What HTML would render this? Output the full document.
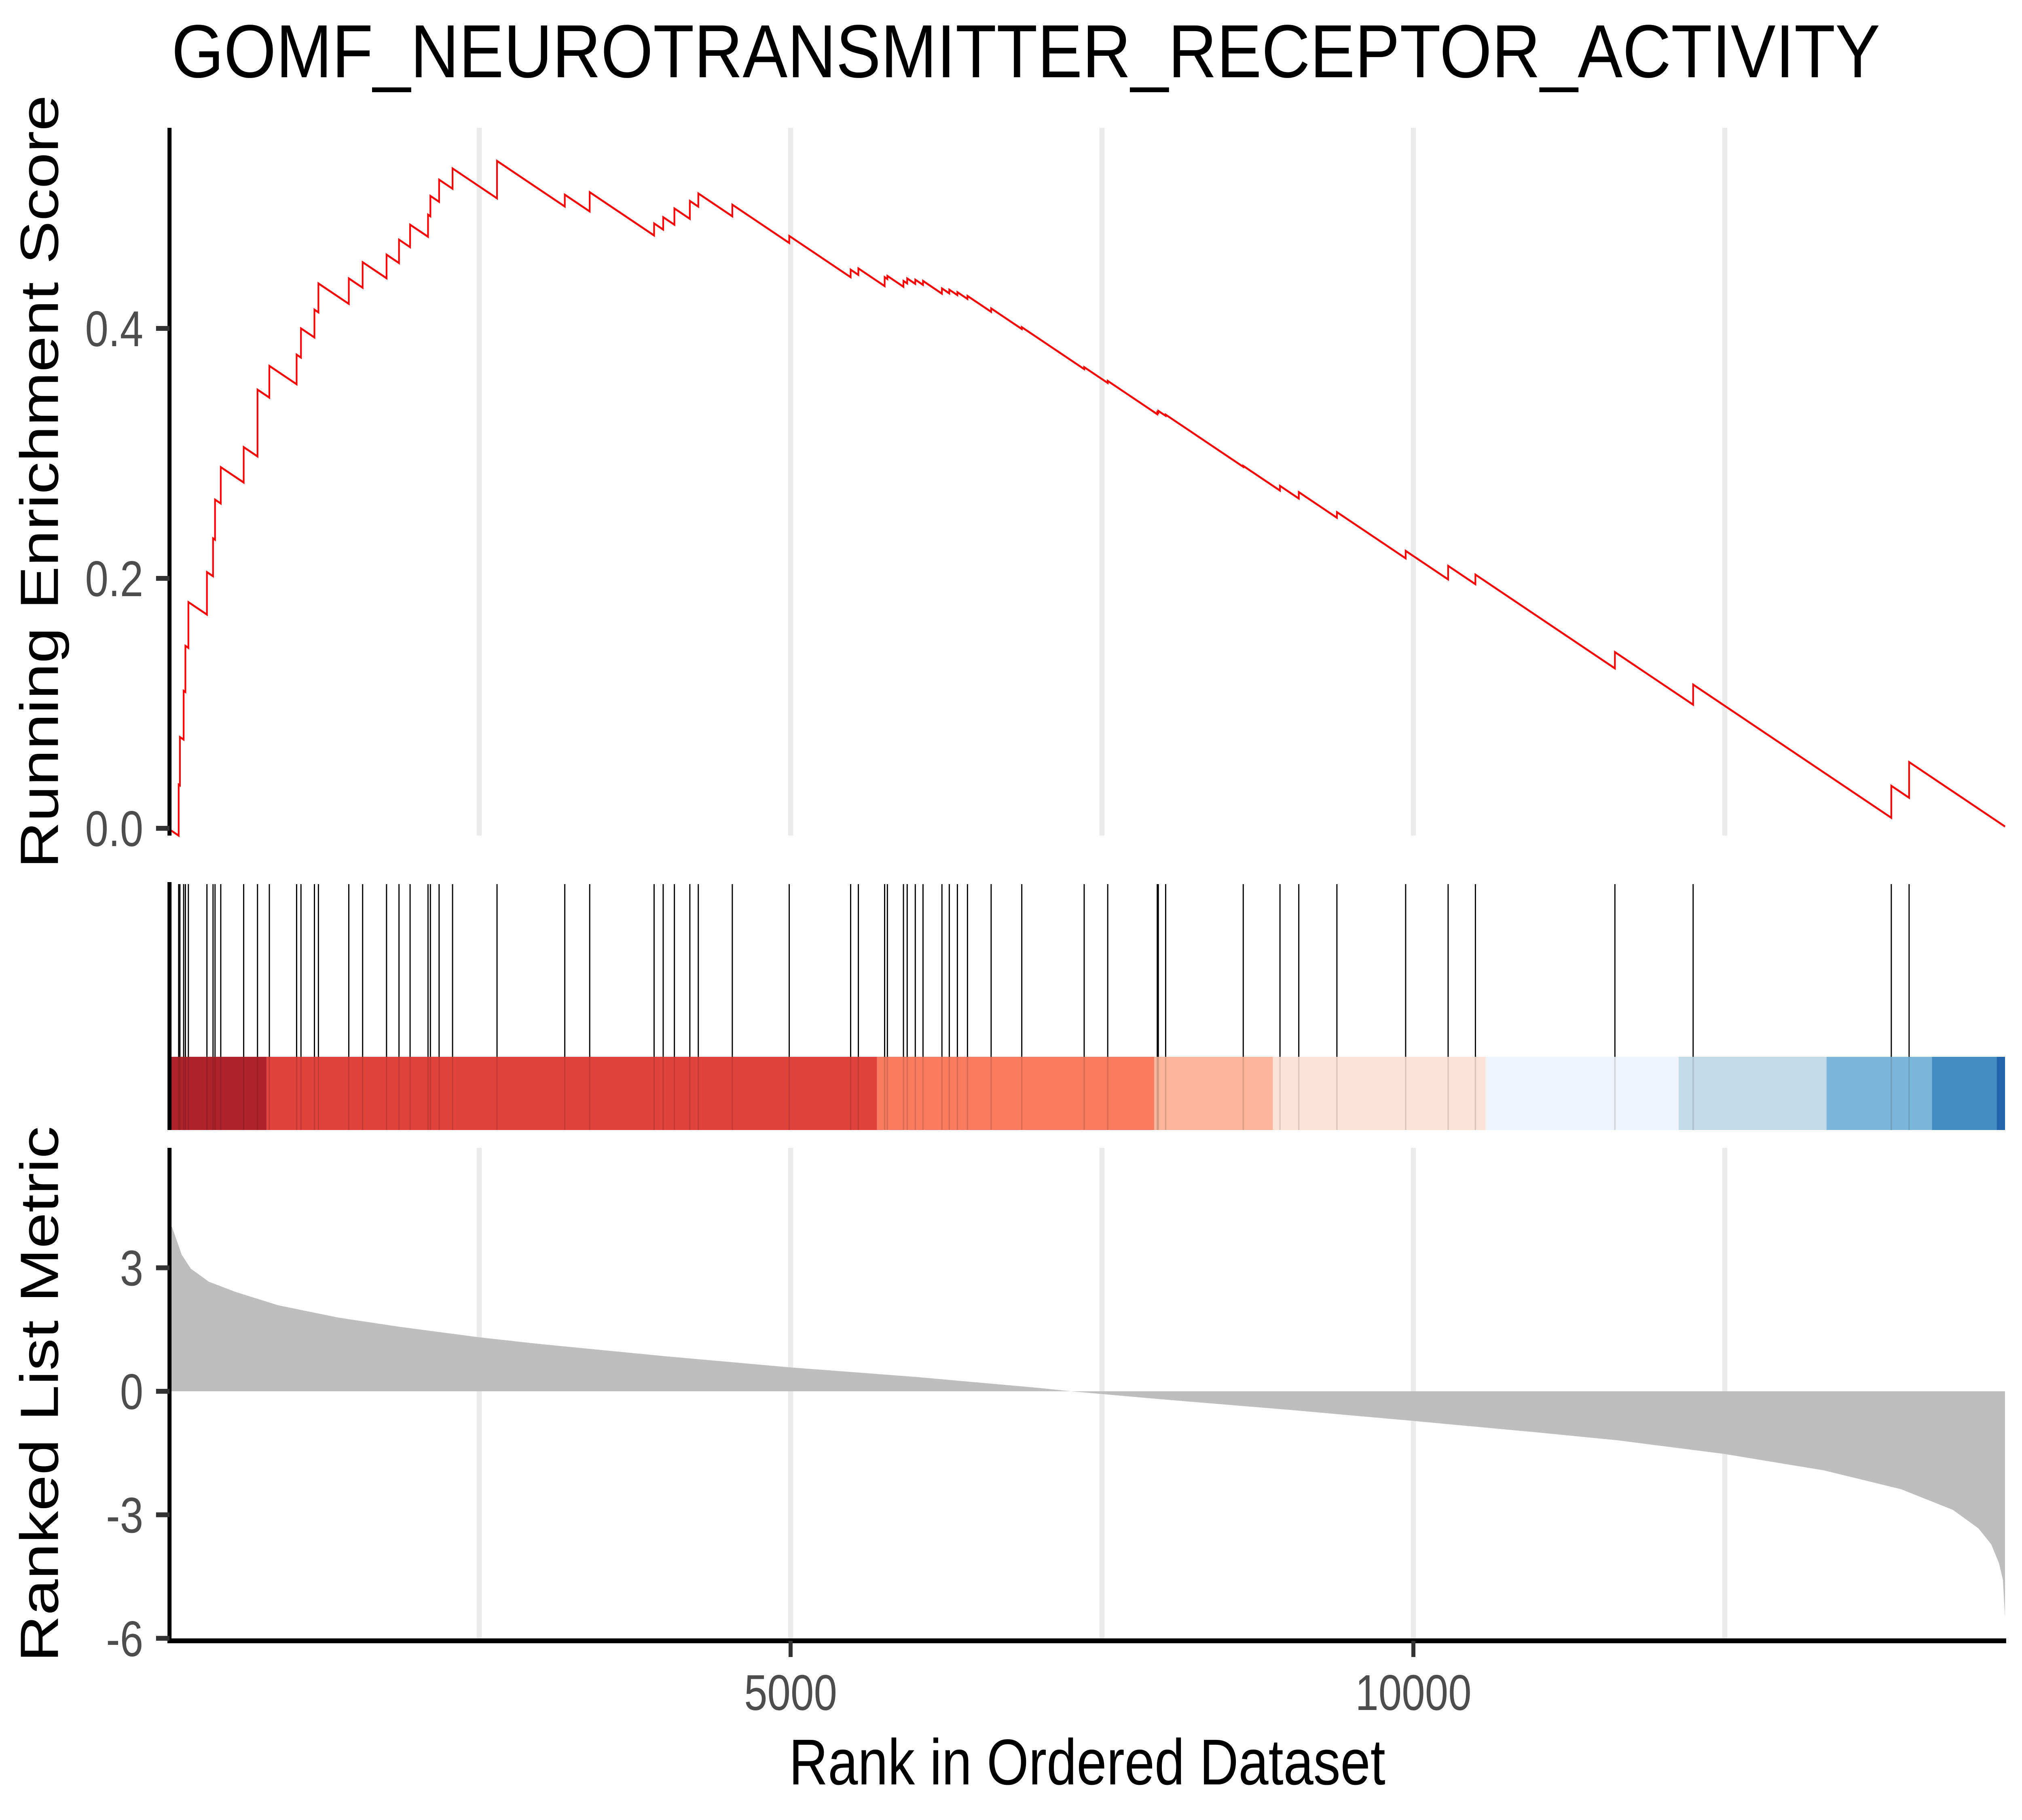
<!DOCTYPE html>
<html><head><meta charset="utf-8"><style>
html,body{margin:0;padding:0;background:#fff;overflow:hidden;width:100%;height:100%;}
svg{display:block;width:100vw;height:100vh;}
</style></head><body>
<svg id="chart" xmlns="http://www.w3.org/2000/svg" viewBox="0 0 6000 4500" preserveAspectRatio="none" font-family="'Liberation Sans', Arial, sans-serif">
<rect x="0" y="0" width="6000" height="4500" fill="#ffffff"/>
<text x="509" y="191" font-size="186" fill="#000" textLength="5070" lengthAdjust="spacingAndGlyphs">GOMF_NEUROTRANSMITTER_RECEPTOR_ACTIVITY</text>
<defs><clipPath id="ytclip"><rect x="0" y="200" width="400" height="1970"/></clipPath></defs>
<g clip-path="url(#ytclip)"><text transform="translate(172,1191) rotate(-90)" text-anchor="middle" font-size="160" fill="#000">Running Enrichment Score</text></g>
<text transform="translate(172,3447) rotate(-90)" text-anchor="middle" font-size="160" fill="#000">Ranked List Metric</text>
<text x="3226" y="4412" text-anchor="middle" font-size="160" fill="#000">Rank in Ordered Dataset</text>
<g id="grid"></g>
<g id="band"></g>
<g id="marks"></g>
<g id="axes"></g>
</svg>
<script>
const NS='http://www.w3.org/2000/svg';
const N=14750;
const dmiss=6.7e-5;
const hitRanks=[87,97,127,141,165,314,363,379,425,609,720,815,1034,1069,1177,1209,1453,1564,1756,1856,1945,2089,2108,2178,2286,2643,3187,3387,3904,3977,4067,4191,4259,4532,4989,5482,5544,5755,5777,5906,5936,6001,6063,6215,6274,6339,6420,6610,6856,7357,7546,7944,7952,8011,8634,8929,9080,9386,9938,10279,10498,11618,12246,13837,13980];
const esPeaks=[0.035,0.073,0.110,0.146,0.181,0.205,0.232,0.263,0.289,0.305,0.351,0.370,0.379,0.400,0.415,0.436,0.440,0.453,0.459,0.471,0.483,0.491,0.506,0.519,0.528,0.534,0.507,0.509,0.484,0.489,0.496,0.502,0.508,0.499,0.474,0.447,0.448,0.441,0.442,0.438,0.440,0.439,0.438,0.432,0.431,0.429,0.426,0.416,0.401,0.369,0.358,0.333,0.334,0.331,0.290,0.274,0.269,0.253,0.222,0.210,0.203,0.141,0.115,0.034,0.053];
const metricRanks=[1,35,111,184,330,547,885,1369,1851,2503,2981,4000,5000,6000,7000,7250,8000,9000,10000,11000,11639,12492,13295,13917,14331,14537,14640,14702,14733,14750];
const metricValues=[4.1,3.98,3.32,2.98,2.66,2.41,2.09,1.79,1.57,1.31,1.15,0.85,0.58,0.35,0.08,0,-0.2,-0.45,-0.72,-1.0,-1.19,-1.52,-1.92,-2.38,-2.88,-3.33,-3.72,-4.18,-4.58,-5.48];
const bandBreaks=[0,793,5694,7919,8872,10580,12130,13317,14164,14683,N];
const bandColors=['#AF242C','#E0433C','#F97B60','#FBB59A','#FCE3D7','#EFF3FD','#C3DBE8','#7CB6DA','#448DC3','#2166AB'];
const esTicks=[0,0.2,0.4];
const esTickLabels=['0.0','0.2','0.4'];
const mTicks=[3,0,-3,-6];
const mTickLabels=['3','0','-3','-6'];
const xTicks=[5000,10000];
const xTickLabels=['5000','10000'];
const gridRanks=[2500,5000,7500,10000,12500];

const xS=r=>498+r/5000*1848;
const yES=v=>2048-v*3090;
const yM=v=>3440-v*101.8;
function mk(tag,attrs,parent){const e=document.createElementNS(NS,tag);for(const k in attrs)e.setAttribute(k,attrs[k]);parent.appendChild(e);return e;}
const grid=document.getElementById('grid'),band=document.getElementById('band'),marks=document.getElementById('marks'),axes=document.getElementById('axes');

gridRanks.forEach(r=>{
  let g1=mk('line',{x1:xS(r),x2:xS(r),y1:316,y2:2066,stroke:'#EBEBEB','stroke-width':15},grid);
  
  
  let g2=mk('line',{x1:xS(r),x2:xS(r),y1:2838,y2:4057,stroke:'#EBEBEB','stroke-width':15},grid);
  
  
});

for(let i=0;i<bandColors.length;i++){
  let r=mk('rect',{x:xS(bandBreaks[i]),y:2613,width:xS(bandBreaks[i+1])-xS(bandBreaks[i]),height:181,fill:bandColors[i]},band);
  
  
}
hitRanks.forEach(h=>{
  let t=mk('line',{x1:xS(h),x2:xS(h),y1:2186,y2:2613,stroke:'#000','stroke-width':3.5},marks);
  
  
  let t2=mk('line',{x1:xS(h),x2:xS(h),y1:2613,y2:2794,stroke:'#000','stroke-opacity':0.13,'stroke-width':4},marks);
  
  
});

let pts=[[xS(metricRanks[0]),yM(0)]];
metricRanks.forEach((r,i)=>pts.push([xS(r),yM(metricValues[i])]));
pts.push([xS(metricRanks[metricRanks.length-1]),yM(0)]);
let area=mk('polygon',{points:pts.map(p=>p.join(',')).join(' '),fill:'#BEBEBE'},marks);



let d='M'+xS(0)+','+yES(0);
let prevR=0,prevV=0;
hitRanks.forEach((r,i)=>{
  const pre=prevV-dmiss*(r-prevR);
  d+=' L'+xS(r)+','+yES(pre)+' L'+xS(r)+','+yES(esPeaks[i]);
  prevR=r;prevV=esPeaks[i];
});
d+=' L'+xS(N)+','+yES(prevV-dmiss*(N-prevR));
let es=mk('path',{d:d,fill:'none',stroke:'#FF0000','stroke-width':5,'stroke-linejoin':'miter'},marks);



let a1=mk('line',{x1:503,x2:503,y1:316,y2:2066,stroke:'#000','stroke-width':12},axes);


let a2=mk('line',{x1:503,x2:503,y1:2838,y2:4063,stroke:'#000','stroke-width':12},axes);


let a3=mk('line',{x1:497,x2:5953,y1:4057,y2:4057,stroke:'#000','stroke-width':12},axes);


let a4=mk('rect',{x:497,y:2181,width:12,height:613,fill:'#000'},axes);



esTicks.forEach((v,i)=>{
  let t=mk('line',{x1:463,x2:503,y1:yES(v),y2:yES(v),stroke:'#333','stroke-width':12},axes);
  
  
  let l=mk('text',{x:425,y:yES(v)+44,'text-anchor':'end','font-size':124,fill:'#4D4D4D'},axes);
  l.textContent=esTickLabels[i];
  
  
});
mTicks.forEach((v,i)=>{
  let t=mk('line',{x1:463,x2:503,y1:yM(v),y2:yM(v),stroke:'#333','stroke-width':12},axes);
  
  
  let l=mk('text',{x:425,y:yM(v)+44,'text-anchor':'end','font-size':124,fill:'#4D4D4D'},axes);
  l.textContent=mTickLabels[i];
  
  
});
xTicks.forEach((v,i)=>{
  let t=mk('line',{x1:xS(v),x2:xS(v),y1:4057,y2:4097,stroke:'#333','stroke-width':12},axes);
  
  
  let l=mk('text',{x:xS(v),y:4228,'text-anchor':'middle','font-size':124,fill:'#4D4D4D'},axes);
  l.textContent=xTickLabels[i];
  
  
});
</script>
</body></html>
